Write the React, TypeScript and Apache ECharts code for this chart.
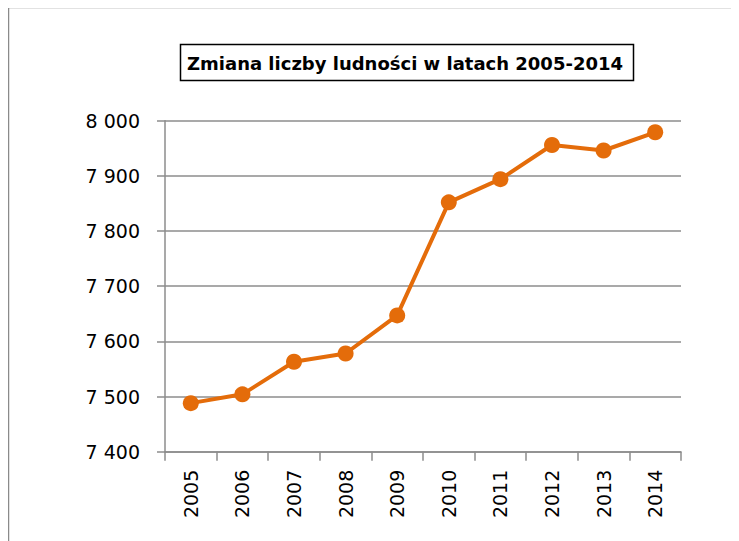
import React, { useEffect, useRef } from "react";
import * as echarts from "echarts";

const years = ["2005", "2006", "2007", "2008", "2009", "2010", "2011", "2012", "2013", "2014"];
const population = [7488, 7504, 7563, 7578, 7647, 7852, 7894, 7956, 7946, 7979];
const titleText = "Zmiana liczby ludności w latach 2005-2014";

const fmt = (v: number) => {
  const s = String(Math.round(v));
  return s.replace(/\B(?=(\d{3})+(?!\d))/g, " ");
};

export default function App() {
  const ref = useRef<HTMLDivElement>(null);
  useEffect(() => {
    if (!ref.current) return;
    const chart = echarts.init(ref.current, null, { renderer: "svg" });
    chart.setOption({
      animation: false,
      backgroundColor: "#ffffff",
      graphic: [
        {
          type: "rect",
          silent: true,
          shape: { x: 0.5, y: -0.5, width: 2000, height: 2000 },
          style: { fill: "none", stroke: "#8a8a8a", lineWidth: 1.5 },
        },
        {
          type: "rect",
          silent: true,
          shape: { x: 172.5, y: 36.5, width: 453, height: 36 },
          style: { fill: "#ffffff", stroke: "#000000", lineWidth: 1.5 },
        },
        {
          type: "text",
          silent: true,
          x: 397,
          y: 55,
          style: {
            text: titleText,
            fill: "#000000",
            font: "bold 18px 'DejaVu Sans', sans-serif",
            align: "center",
            verticalAlign: "middle",
          },
        },
      ],
      grid: { left: 157, right: 58, top: 112.7, bottom: 89.3, containLabel: false },
      xAxis: {
        type: "category",
        data: years,
        boundaryGap: true,
        axisLine: { show: true, lineStyle: { color: "#8c8c8c", width: 1.5 } },
        axisTick: { show: true, length: 9, alignWithLabel: false, lineStyle: { color: "#8c8c8c", width: 1.5 } },
        axisLabel: {
          rotate: 90,
          margin: 18,
          color: "#000000",
          fontSize: 19,
          fontFamily: "'DejaVu Sans', sans-serif",
        },
        splitLine: { show: false },
      },
      yAxis: {
        type: "value",
        min: 7400,
        max: 8000,
        interval: 100,
        axisLine: { show: true, lineStyle: { color: "#8c8c8c", width: 1.5 } },
        axisTick: { show: true, length: 8, lineStyle: { color: "#8c8c8c", width: 1.5 } },
        axisLabel: {
          formatter: (v: number) => fmt(v),
          margin: 25,
          color: "#000000",
          fontSize: 19,
          fontFamily: "'DejaVu Sans', sans-serif",
        },
        splitLine: { show: true, lineStyle: { color: "#8c8c8c", width: 1.5 } },
      },
      series: [
        {
          type: "line",
          data: population,
          symbol: "circle",
          symbolSize: 16,
          itemStyle: { color: "#E46C0A" },
          lineStyle: { color: "#E46C0A", width: 4 },
          emphasis: { disabled: true },
        },
      ],
    });
    return () => chart.dispose();
  }, []);
  return <div ref={ref} style={{ width: 731, height: 533 }} />;
}
